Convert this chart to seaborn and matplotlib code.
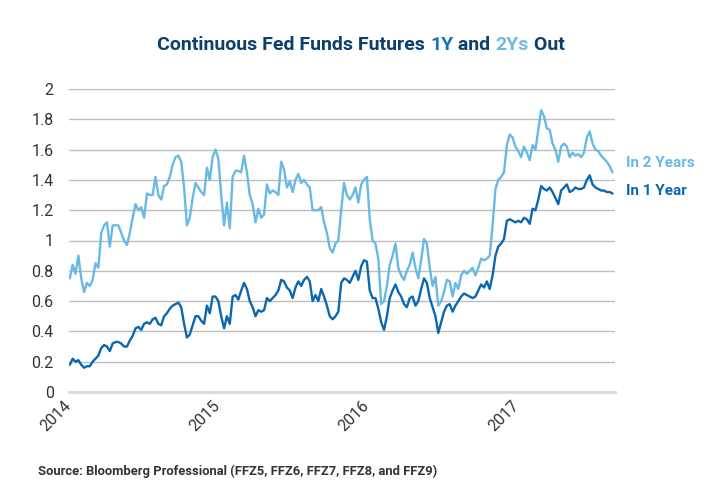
import numpy as np
import pandas as pd
import matplotlib
matplotlib.use("Agg")
import matplotlib.pyplot as plt
import seaborn as sns

# ---------------- data ----------------
start_date = "2014-01-03"   # weekly observations (Fridays)
in_2_years = [
    0.75, 0.84, 0.78, 0.90, 0.75, 0.66, 0.72, 0.70, 0.74, 0.85,
    0.82, 1.05, 1.10, 1.12, 0.96, 1.10, 1.10, 1.10, 1.05, 1.00,
    0.97, 1.05, 1.15, 1.24, 1.20, 1.22, 1.15, 1.31, 1.30, 1.30,
    1.42, 1.30, 1.27, 1.36, 1.37, 1.42, 1.50, 1.55, 1.56, 1.52,
    1.35, 1.10, 1.15, 1.28, 1.38, 1.35, 1.32, 1.30, 1.48, 1.40,
    1.55, 1.60, 1.54, 1.30, 1.10, 1.25, 1.08, 1.42, 1.46, 1.46,
    1.45, 1.56, 1.45, 1.30, 1.24, 1.12, 1.21, 1.15, 1.17, 1.37,
    1.31, 1.33, 1.32, 1.30, 1.52, 1.47, 1.35, 1.39, 1.32, 1.40,
    1.44, 1.38, 1.40, 1.37, 1.35, 1.20, 1.20, 1.20, 1.22, 1.12,
    1.05, 0.95, 0.92, 0.98, 1.00, 1.20, 1.38, 1.30, 1.27, 1.30,
    1.35, 1.25, 1.37, 1.40, 1.42, 1.14, 1.00, 0.98, 0.88, 0.58,
    0.60, 0.70, 0.84, 0.90, 0.98, 0.82, 0.77, 0.74, 0.80, 0.84,
    0.92, 0.82, 0.75, 0.87, 1.01, 0.98, 0.82, 0.70, 0.76, 0.57,
    0.60, 0.66, 0.74, 0.73, 0.63, 0.72, 0.68, 0.77, 0.80, 0.78,
    0.80, 0.82, 0.77, 0.82, 0.88, 0.87, 0.88, 0.90, 1.10, 1.34,
    1.40, 1.42, 1.45, 1.63, 1.70, 1.68, 1.62, 1.59, 1.55, 1.62,
    1.58, 1.53, 1.63, 1.60, 1.73, 1.86, 1.82, 1.74, 1.73, 1.64,
    1.60, 1.52, 1.62, 1.64, 1.62, 1.55, 1.58, 1.56, 1.57, 1.55,
    1.58, 1.68, 1.72, 1.64, 1.60, 1.59, 1.56, 1.54, 1.52, 1.49, 1.45,
]
in_1_year = [
    0.18, 0.22, 0.20, 0.21, 0.18, 0.16, 0.17, 0.17, 0.20, 0.22,
    0.24, 0.29, 0.31, 0.30, 0.27, 0.32, 0.33, 0.33, 0.32, 0.30,
    0.30, 0.34, 0.37, 0.42, 0.43, 0.41, 0.45, 0.46, 0.45, 0.48,
    0.49, 0.45, 0.44, 0.50, 0.52, 0.55, 0.57, 0.58, 0.59, 0.56,
    0.45, 0.36, 0.38, 0.44, 0.50, 0.50, 0.47, 0.45, 0.57, 0.52,
    0.63, 0.63, 0.60, 0.50, 0.42, 0.50, 0.45, 0.63, 0.64, 0.61,
    0.67, 0.72, 0.68, 0.60, 0.56, 0.50, 0.54, 0.53, 0.54, 0.62,
    0.60, 0.62, 0.64, 0.67, 0.74, 0.73, 0.69, 0.67, 0.62, 0.69,
    0.73, 0.70, 0.74, 0.76, 0.73, 0.60, 0.64, 0.60, 0.68, 0.63,
    0.57, 0.50, 0.48, 0.50, 0.53, 0.72, 0.75, 0.74, 0.72, 0.76,
    0.80, 0.74, 0.83, 0.87, 0.86, 0.67, 0.62, 0.62, 0.55, 0.46,
    0.41, 0.50, 0.62, 0.67, 0.71, 0.66, 0.63, 0.58, 0.56, 0.62,
    0.63, 0.57, 0.60, 0.68, 0.75, 0.72, 0.62, 0.56, 0.50, 0.39,
    0.46, 0.53, 0.57, 0.58, 0.53, 0.57, 0.60, 0.63, 0.65, 0.64,
    0.63, 0.62, 0.63, 0.67, 0.71, 0.69, 0.73, 0.68, 0.77, 0.90,
    0.96, 0.98, 1.01, 1.13, 1.14, 1.13, 1.12, 1.13, 1.12, 1.15,
    1.14, 1.11, 1.21, 1.20, 1.27, 1.36, 1.34, 1.33, 1.35, 1.32,
    1.28, 1.24, 1.33, 1.35, 1.37, 1.32, 1.33, 1.35, 1.34, 1.34,
    1.35, 1.40, 1.43, 1.37, 1.35, 1.34, 1.33, 1.33, 1.32, 1.32, 1.31,
]
series_names = ["In 2 Years", "In 1 Year"]
series_colors = ["#68b9e5", "#0b67b0"]
y_ticks = [0, 0.2, 0.4, 0.6, 0.8, 1.0, 1.2, 1.4, 1.6, 1.8, 2.0]
y_tick_labels = ["0", "0.2", "0.4", "0.6", "0.8", "1", "1.2", "1.4", "1.6", "1.8", "2"]
x_tick_years = [2014, 2015, 2016, 2017]
x_range = ["2014-01-01", "2017-08-31"]
navy = "#0d3f6e"
title_parts = [("Continuous Fed Funds Futures ", navy), ("1Y", "#1a72b8"),
               (" and ", navy), ("2Ys", "#6cbbe6"), (" Out", navy)]
source_text = "Source: Bloomberg Professional (FFZ5, FFZ6, FFZ7, FFZ8, and FFZ9)"

# ---------------- build frame ----------------
dates = pd.date_range(start_date, periods=len(in_2_years), freq="W-FRI")
df = pd.DataFrame({
    "date": list(dates) + list(dates),
    "rate": in_2_years + in_1_year,
    "series": [series_names[0]] * len(in_2_years) + [series_names[1]] * len(in_1_year),
})

sns.set_theme(style="white")
plt.rcParams["font.family"] = ["Roboto", "DejaVu Sans"]

W, H = 720, 500
fig = plt.figure(figsize=(W / 100, H / 100), dpi=100)
ax = fig.add_axes([69 / W, 1 - 392 / H, (615 - 69) / W, (392 - 89) / H])

for sp in ["top", "right", "left"]:
    ax.spines[sp].set_visible(False)
ax.spines["bottom"].set_color("#d9d9d9")
ax.spines["bottom"].set_linewidth(2)

ax.set_ylim(0, 2)
ax.set_yticks(y_ticks)
ax.set_yticklabels(y_tick_labels)
ax.yaxis.grid(True, color="#bdbdbd", linewidth=1)
ax.set_axisbelow(True)
ax.tick_params(axis="y", length=0, pad=11, labelsize=11.5, labelcolor="#333333")

sns.lineplot(data=df, x="date", y="rate", hue="series", hue_order=series_names,
             palette=dict(zip(series_names, series_colors)), linewidth=1.7,
             legend=False, ax=ax)

ax.set_xlim(pd.Timestamp(x_range[0]), pd.Timestamp(x_range[1]))
ax.set_xticks([pd.Timestamp(f"{y}-01-01") for y in x_tick_years])
ax.set_xticklabels([str(y) for y in x_tick_years], rotation=45, ha="right",
                   va="center", rotation_mode="anchor")
ax.tick_params(axis="x", length=5, width=1, color="#c8c8c8", pad=3,
               labelsize=11.5, labelcolor="#333333")
ax.set_xlabel("")
ax.set_ylabel("")

# end labels
ax.annotate(series_names[0], xy=(1.0, 1.51), xycoords=("axes fraction", "data"),
            xytext=(8, 0), textcoords="offset points", color=series_colors[0],
            fontsize=11, fontweight="bold", va="center", ha="left")
ax.annotate(series_names[1], xy=(1.0, 1.33), xycoords=("axes fraction", "data"),
            xytext=(8, 0), textcoords="offset points", color=series_colors[1],
            fontsize=11, fontweight="bold", va="center", ha="left")

# multi-coloured title
renderer = fig.canvas.get_renderer()
title_fs = 14
full = "".join(p[0] for p in title_parts)
probe = fig.text(0, 0, full, fontsize=title_fs, fontweight="bold")
total_w = probe.get_window_extent(renderer).width
probe.remove()
x0 = (W - total_w) / 2 + 1
prefix = ""
for s, c in title_parts:
    if prefix:
        pr = fig.text(0, 0, prefix + "|", fontsize=title_fs, fontweight="bold")
        bar = fig.text(0, 0, "|", fontsize=title_fs, fontweight="bold")
        off = pr.get_window_extent(renderer).width - bar.get_window_extent(renderer).width
        pr.remove(); bar.remove()
    else:
        off = 0
    fig.text((x0 + off) / W, 1 - 50 / H, s, color=c, fontsize=title_fs,
             fontweight="bold", ha="left", va="baseline")
    prefix += s

fig.text(38 / W, 1 - 475 / H, source_text, fontsize=9.4, fontweight="bold",
         color="#333333", ha="left", va="baseline")

fig.savefig("out.png", dpi=100)
